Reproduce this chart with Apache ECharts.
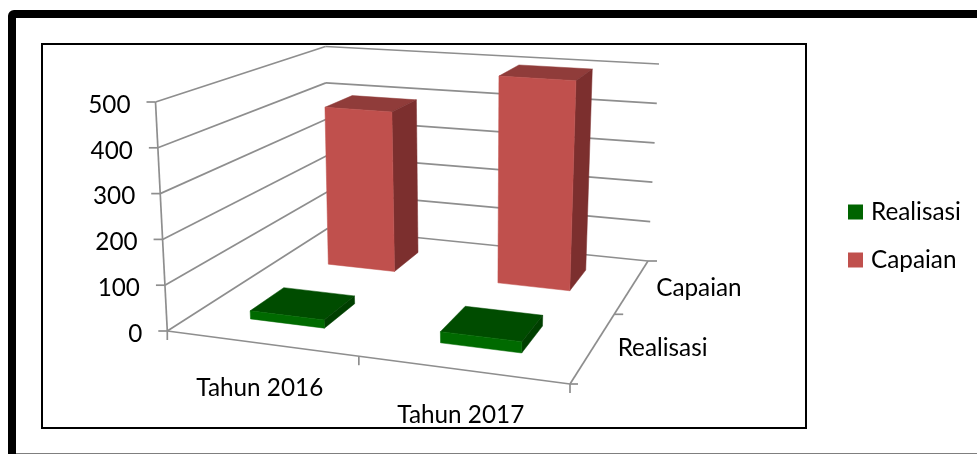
<!DOCTYPE html>
<html><head><meta charset="utf-8">
<style>html,body{margin:0;padding:0;background:#fff}#c{width:977px;height:454px}</style>
<script src="https://cdn.jsdelivr.net/npm/echarts@6/dist/echarts.min.js"></script>
</head><body><div id="c"></div>
<script>
var categories = ['Tahun 2016', 'Tahun 2017'];
var depthNames = ['Realisasi', 'Capaian'];
var valueTicks = [0, 100, 200, 300, 400, 500];
var realisasi = [18, 24];
var capaian = [395, 500];

var FONT = '24.3px Lato';
var GRID = '#8e8e8e';
// Projection of the unit box (x across, z into the page, y up) on to the page.
var floorQuad = [[167.3,331],[570,384],[648,261],[327.5,228.5]];
var topQuad = [[155.5,102],[580,136],[659,64],[325.5,46.5]];
function homography(q){
  var x0=q[0][0],y0=q[0][1],x1=q[1][0],y1=q[1][1],x2=q[2][0],y2=q[2][1],x3=q[3][0],y3=q[3][1];
  var dx1=x1-x2,dx2=x3-x2,sx=x0-x1+x2-x3,dy1=y1-y2,dy2=y3-y2,sy=y0-y1+y2-y3;
  var den=dx1*dy2-dx2*dy1,g=(sx*dy2-dx2*sy)/den,h=(dx1*sy-sx*dy1)/den;
  var a=x1-x0+g*x1,b=x3-x0+h*x3,d=y1-y0+g*y1,e=y3-y0+h*y3;
  return function(u,v){var w=g*u+h*v+1;return [(a*u+b*v+x0)/w,(d*u+e*v+y0)/w];};
}
var hFloor=homography(floorQuad), hTop=homography(topQuad);
function P(u,v,t){var a=hFloor(u,v),b=hTop(u,v);return [a[0]+(b[0]-a[0])*t,a[1]+(b[1]-a[1])*t];}

function line(a,b,w){return {type:'line',silent:true,shape:{x1:a[0],y1:a[1],x2:b[0],y2:b[1]},style:{stroke:GRID,lineWidth:w||1.7,fill:null}};}
function label(t,x,y,align){return {type:'text',silent:true,style:{text:t,x:x,y:y,font:FONT,fill:'#000',textAlign:align,textVerticalAlign:'middle'}};}
function frac(api,cs,val){return (api.coord([0,0])[1]-api.coord([0,val])[1])/cs.height;}

function renderValueTick(params,api){
  var cs=params.coordSys,v=api.value(1),t=frac(api,cs,v);
  var a=P(0,0,t),b=P(0,1,t),c=P(1,1,t);
  var kids=[line(a,b),line(b,c),line([a[0]-9,a[1]],a),label(String(v),a[0]-25,a[1]+3,'right')];
  if(params.dataIndex===0){
    kids.push(line(P(0,0,0),P(0,0,1)));
    kids.push(line(P(0,0,0),P(1,0,0)));
    kids.push(line(P(1,0,0),P(1,1,0)));
    kids.push(line(P(0,0,0),[P(0,0,0)[0],P(0,0,0)[1]+9]));
    kids.push(line(P(1,0,0),[P(1,0,0)[0],P(1,0,0)[1]+9]));
    kids.push(line(P(.5,0,0),[P(.5,0,0)[0],P(.5,0,0)[1]+9]));
    kids.push(line(P(1,.5,0),[P(1,.5,0)[0]+9,P(1,.5,0)[1]]));
    kids.push(line(P(1,0,0),[P(1,0,0)[0]+8,P(1,0,0)[1]]));
    kids.push(line(P(1,1,0),[P(1,1,0)[0]+9,P(1,1,0)[1]]));
  }
  return {type:'group',children:kids};
}
function renderCategory(params,api){
  var cs=params.coordSys,i=api.value(0);
  var u=(api.coord([i,0])[0]-cs.x)/cs.width, p=P(u,0,0);
  return label(categories[i],p[0]-1,p[1]+45,'center');
}
function renderDepth(params,api){
  var i=api.value(0), p=P(1,(i+.5)/depthNames.length,0);
  return label(depthNames[i],p[0]+24,p[1]+2,'left');
}
function bar(front,side,top,depthIndex){
  return function(params,api){
    var cs=params.coordSys,c=api.value(0),val=api.value(1);
    var u=(api.coord([c,0])[0]-cs.x)/cs.width, hw=api.size([1,0])[0]/cs.width*0.2;
    var v=(depthIndex+.5)/depthNames.length, hd=0.1, t=frac(api,cs,val);
    var u0=u-hw,u1=u+hw,v0=v-hd,v1=v+hd;
    function poly(pts,col){return {type:'polygon',shape:{points:pts},style:{fill:col,stroke:col,lineWidth:.5}};}
    return {type:'group',children:[
      poly([P(u0,v0,t),P(u1,v0,t),P(u1,v1,t),P(u0,v1,t)],top),
      poly([P(u1,v0,0),P(u1,v1,0),P(u1,v1,t),P(u1,v0,t)],side),
      poly([P(u0,v0,0),P(u1,v0,0),P(u1,v0,t),P(u0,v0,t)],front)
    ]};
  };
}
function pairs(a){return a.map(function(v,i){return [i,v];});}

var chart=echarts.init(document.getElementById('c'),null,{renderer:'canvas'});
chart.setOption({
  animation:false,
  backgroundColor:'#fff',
  grid:{left:0,right:0,top:0,bottom:0},
  xAxis:{type:'category',data:categories,show:false},
  yAxis:{type:'value',min:0,max:500,interval:100,show:false},
  legend:{
    data:['Realisasi','Capaian'],orient:'vertical',left:843,top:195,padding:5,
    itemWidth:15,itemHeight:15,itemGap:24,icon:'rect',
    textStyle:{fontFamily:'Lato',fontSize:24.3,color:'#000',padding:[0,0,0,3]}
  },
  graphic:{elements:[
    {type:'rect',z:0,silent:true,shape:{x:12,y:14,width:1010,height:443.5,r:2},style:{fill:null,stroke:'#000',lineWidth:8}},
    {type:'rect',z:0,silent:true,shape:{x:42,y:44,width:764,height:384},style:{fill:null,stroke:'#000',lineWidth:2}}
  ]},
  series:[
    {type:'custom',name:'axisValue',silent:true,z:2,clip:false,renderItem:renderValueTick,data:valueTicks.map(function(v){return [0,v];}),encode:{x:0,y:1}},
    {type:'custom',name:'axisCategory',silent:true,z:2,clip:false,renderItem:renderCategory,data:categories.map(function(c,i){return [i,0];}),encode:{x:0,y:1}},
    {type:'custom',name:'axisDepth',silent:true,z:2,clip:false,renderItem:renderDepth,data:depthNames.map(function(c,i){return [i,0];}),encode:{x:0,y:1}},
    {type:'custom',name:'Capaian',z:3,clip:false,itemStyle:{color:'#C0504D'},renderItem:bar('#C0504D','#7C2F2E','#903C3A',1),data:pairs(capaian),encode:{x:0,y:1}},
    {type:'custom',name:'Realisasi',z:4,clip:false,itemStyle:{color:'#006400'},renderItem:bar('#006A00','#003F00','#004C00',0),data:pairs(realisasi),encode:{x:0,y:1}}
  ]
});
</script></body></html>
